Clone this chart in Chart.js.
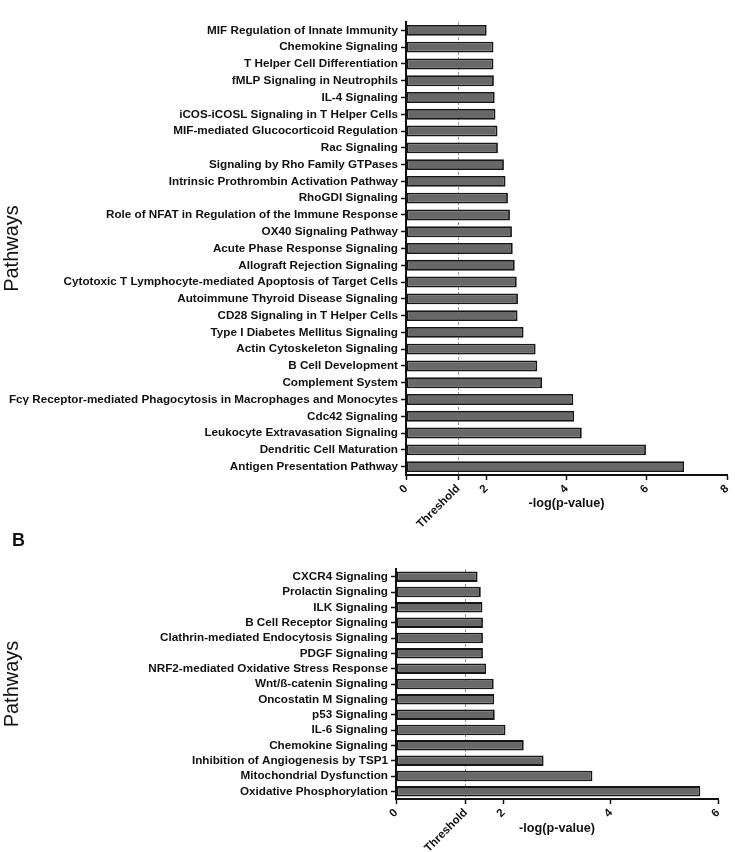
<!DOCTYPE html>
<html>
<head>
<meta charset="utf-8">
<script src="https://cdn.jsdelivr.net/npm/chart.js@4"></script>
<style>
  html, body { margin: 0; padding: 0; background: #fff; }
  #wrap { position: relative; width: 735px; height: 852px; overflow: hidden; }
  canvas { position: absolute; left: 0; }
  #labelB { position: absolute; left: 12px; top: 530px; font: bold 18px "Liberation Sans", Arial, sans-serif; color: #111; }
</style>
</head>
<body>
<div id="wrap">
  <canvas id="chartA" width="735" height="540" style="top:0"></canvas>
  <div id="labelB">B</div>
  <canvas id="chartB" width="735" height="307" style="top:545px"></canvas>
</div>
<script>
'use strict';

// 패널 A
const pathwaysA = [
  'MIF Regulation of Innate Immunity',
  'Chemokine Signaling',
  'T Helper Cell Differentiation',
  'fMLP Signaling in Neutrophils',
  'IL-4 Signaling',
  'iCOS-iCOSL Signaling in T Helper Cells',
  'MIF-mediated Glucocorticoid Regulation',
  'Rac Signaling',
  'Signaling by Rho Family GTPases',
  'Intrinsic Prothrombin Activation Pathway',
  'RhoGDI Signaling',
  'Role of NFAT in Regulation of the Immune Response',
  'OX40 Signaling Pathway',
  'Acute Phase Response Signaling',
  'Allograft Rejection Signaling',
  'Cytotoxic T Lymphocyte-mediated Apoptosis of Target Cells',
  'Autoimmune Thyroid Disease Signaling',
  'CD28 Signaling in T Helper Cells',
  'Type I Diabetes Mellitus Signaling',
  'Actin Cytoskeleton Signaling',
  'B Cell Development',
  'Complement System',
  'Fcγ Receptor-mediated Phagocytosis in Macrophages and Monocytes',
  'Cdc42 Signaling',
  'Leukocyte Extravasation Signaling',
  'Dendritic Cell Maturation',
  'Antigen Presentation Pathway',
];
const valuesA = [
  2.01, 2.18, 2.18, 2.19, 2.21, 2.23, 2.28, 2.29, 2.44, 2.48, 2.54, 2.59, 2.64, 2.66,
  2.71, 2.76, 2.79, 2.78, 2.93, 3.23, 3.27, 3.39, 4.17, 4.19, 4.38, 5.98, 6.93,
];
const ticksA = [0, 1.3, 2, 4, 6, 8];

// 패널 B
const pathwaysB = [
  'CXCR4 Signaling',
  'Prolactin Signaling',
  'ILK Signaling',
  'B Cell Receptor Signaling',
  'Clathrin-mediated Endocytosis Signaling',
  'PDGF Signaling',
  'NRF2-mediated Oxidative Stress Response',
  'Wnt/ß-catenin Signaling',
  'Oncostatin M Signaling',
  'p53 Signaling',
  'IL-6 Signaling',
  'Chemokine Signaling',
  'Inhibition of Angiogenesis by TSP1',
  'Mitochondrial Dysfunction',
  'Oxidative Phosphorylation',
];
const valuesB = [1.52, 1.58, 1.61, 1.62, 1.62, 1.62, 1.68, 1.82, 1.83, 1.84, 2.04, 2.38, 2.75, 3.66, 5.67];
const ticksB = [0, 1.3, 2, 4, 6];

const THRESHOLD = 1.3;
const FONT = '"Liberation Sans", Arial, sans-serif';

function makeChart(canvasId, labels, values, tickValues, geo) {
  const canvas = document.getElementById(canvasId);
  if (!canvas || typeof Chart === 'undefined') return null;

  return new Chart(canvas, {
    type: 'bar',
    data: {
      labels,
      datasets: [{
        data: values,
        backgroundColor: '#686868',
        borderColor: '#161616',
        borderWidth: 1.8,
        borderSkipped: false,
        categoryPercentage: 1,
        barPercentage: geo.barPct,
      }],
    },
    options: {
      indexAxis: 'y',
      responsive: false,
      animation: false,
      layout: { padding: { left: 0, right: geo.padRight, top: geo.padTop, bottom: 0 } },
      plugins: { legend: { display: false }, tooltip: { enabled: false } },
      scales: {
        x: {
          type: 'linear',
          min: 0,
          max: tickValues[tickValues.length - 1],
          afterBuildTicks: s => { s.ticks = tickValues.map(v => ({ value: v })); },
          afterFit: s => { s.height = geo.xHeight; s.paddingLeft = 0; s.paddingRight = 0; },
          border: { display: true, color: '#111', width: 2, dash: [3, 2] },
          grid: {
            drawOnChartArea: true,
            color: ctx => (ctx.tick && ctx.tick.value === THRESHOLD ? '#9a9a9a' : 'rgba(0,0,0,0)'),
            lineWidth: 1,
            tickColor: '#111',
            tickWidth: 1.5,
            tickLength: 5,
          },
          ticks: {
            autoSkip: false,
            minRotation: 45,
            maxRotation: 45,
            padding: 2,
            color: '#111',
            font: { family: FONT, size: 11.5, weight: 'bold' },
            callback: v => (v === THRESHOLD ? 'Threshold' : v),
          },
          title: {
            display: true,
            text: '-log(p-value)',
            color: '#111',
            font: { family: FONT, size: 12.7, weight: 'bold' },
            padding: { top: 0, bottom: geo.titlePadBottom },
          },
        },
        y: {
          afterFit: s => { s.width = geo.yWidth; s.paddingTop = 0; s.paddingBottom = 0; },
          border: { display: true, color: '#111', width: 2 },
          grid: {
            drawOnChartArea: false,
            offset: false,
            tickColor: '#111',
            tickWidth: 1.5,
            tickLength: 5,
          },
          ticks: {
            autoSkip: false,
            padding: 3,
            color: '#111',
            font: { family: FONT, size: 11.7, weight: 'bold' },
          },
          title: {
            display: true,
            text: 'Pathways',
            color: '#111',
            font: { family: FONT, size: 20, weight: 'normal' },
            padding: 0,
          },
        },
      },
    },
  });
}

makeChart('chartA', pathwaysA, valuesA, ticksA, {
  barPct: 0.65, padTop: 22, padRight: 8, yWidth: 406, xHeight: 65, titlePadBottom: 29,
});
makeChart('chartB', pathwaysB, valuesB, ticksB, {
  barPct: 0.68, padTop: 24, padRight: 17, yWidth: 396, xHeight: 53, titlePadBottom: 16,
});
</script>
</body>
</html>
